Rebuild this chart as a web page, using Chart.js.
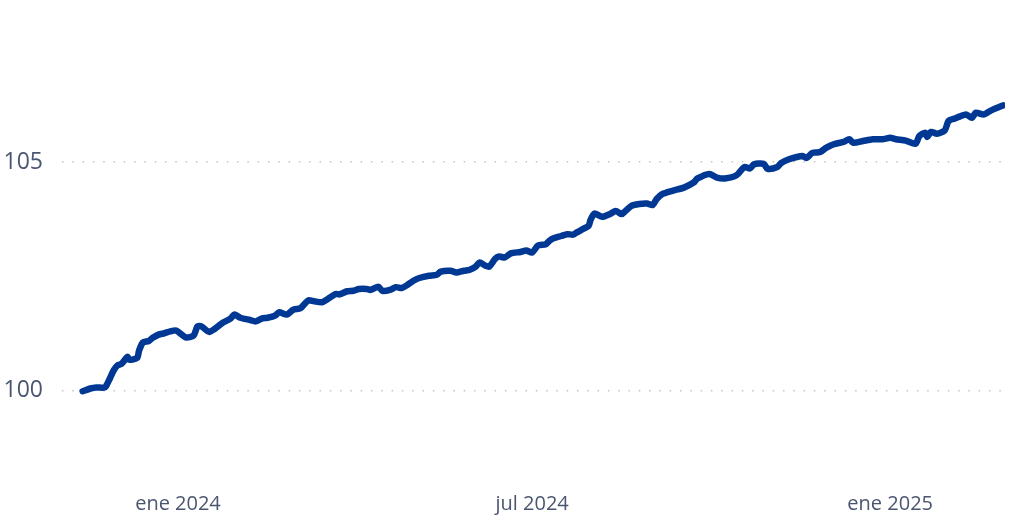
<!DOCTYPE html>
<html>
<head>
<meta charset="utf-8">
<script src="https://cdn.jsdelivr.net/npm/chart.js@4"></script>
<style>
  html, body { margin: 0; padding: 0; background: #fff; }
  #wrap { width: 1009px; height: 516px; }
</style>
</head>
<body>
<div id="wrap"><canvas id="line-chart" width="1009" height="516"></canvas></div>
<script>
// dias desde el 1 de enero de 2024
const days = [-49, -45, -42, -38, -37, -35, -33, -31, -29, -26, -25, -21, -20, -18, -15, -13, -10, -7, -4, -1,
  4, 8, 10, 12, 16, 19, 23, 27, 29, 32, 37, 40, 43, 46, 50, 52, 56, 59, 63, 65, 67, 70, 74, 77, 81, 83, 87, 90, 93, 97,
  99, 103, 105, 109, 112, 115, 118, 121, 124, 129, 133, 135, 140, 143, 147, 150, 153, 155, 158, 160, 163, 165, 168, 171,
  176, 179, 182, 185, 189, 191, 193, 197, 200, 203, 205, 208, 211, 212, 214, 218, 222, 225, 228, 230, 233, 237, 241, 244,
  246, 249, 254, 260, 265, 267, 273, 277, 281, 287, 291, 294, 296, 301, 303, 308, 310, 314, 318, 321, 323, 326, 330, 333,
  337, 342, 345, 347, 352, 357, 362, 366, 369, 374, 379, 381, 384, 385, 387, 390, 394, 396, 399, 402, 405, 408, 410, 414,
  417, 420, 424];

// indice (base 100)
const values = [99.98, 100.04, 100.06, 100.06, 100.09, 100.26, 100.44, 100.55, 100.58, 100.73, 100.67, 100.71, 100.87, 101.05, 101.08, 101.15, 101.22, 101.25, 101.29, 101.31,
  101.16, 101.20, 101.40, 101.40, 101.28, 101.35, 101.48, 101.57, 101.66, 101.59, 101.54, 101.51, 101.57, 101.59, 101.64, 101.71, 101.66, 101.76, 101.80, 101.89, 101.97, 101.95, 101.93, 102.00, 102.11, 102.10, 102.17, 102.18, 102.22, 102.22,
  102.20, 102.27, 102.18, 102.20, 102.26, 102.24, 102.31, 102.40, 102.46, 102.51, 102.53, 102.60, 102.62, 102.58, 102.62, 102.64, 102.71, 102.80, 102.73, 102.71, 102.88, 102.93, 102.91, 103.00,
  103.03, 103.06, 103.02, 103.17, 103.20, 103.28, 103.33, 103.38, 103.42, 103.41, 103.46, 103.53, 103.60, 103.73, 103.87, 103.80, 103.86, 103.93, 103.86, 103.93, 104.04, 104.08, 104.09, 104.06,
  104.19, 104.30, 104.37, 104.44, 104.55, 104.64, 104.74, 104.66, 104.64, 104.71, 104.89, 104.86, 104.95, 104.96, 104.85, 104.89, 104.98, 105.06, 105.11, 105.13, 105.09, 105.20, 105.22, 105.31,
  105.39, 105.44, 105.50, 105.42, 105.46, 105.50, 105.50, 105.53, 105.50, 105.47, 105.40, 105.57, 105.64, 105.55, 105.66, 105.62, 105.69, 105.90, 105.95, 106.00, 106.04, 105.97, 106.08, 106.04,
  106.11, 106.17, 106.24];

// marcas del eje x
const xTickDays = [0, 182, 366];
const xTickLabels = ['ene 2024', 'jul 2024', 'ene 2025'];
const yTicks = [100, 105];

const points = days.map((d, i) => ({ x: d, y: values[i] }));

const config = {
  type: 'line',
  data: {
    datasets: [{
      data: points,
      borderColor: '#003893',
      borderWidth: 6.5,
      borderCapStyle: 'round',
      borderJoinStyle: 'round',
      pointRadius: 0,
      tension: 0.25,
      fill: false
    }]
  },
  options: {
    responsive: false,
    animation: false,
    layout: { padding: { left: 5, right: 4, top: 0, bottom: 0 } },
    plugins: { legend: { display: false }, tooltip: { enabled: false } },
    scales: {
      x: {
        type: 'linear',
        min: -59.6,
        max: 425,
        afterBuildTicks: function(scale) {
          scale.ticks = xTickDays.map(v => ({ value: v }));
        },
        afterFit: function(scale) { scale.height = 38; },
        ticks: {
          autoSkip: false,
          maxRotation: 0,
          padding: 6,
          color: '#4a5670',
          font: { family: 'Open Sans', size: 20 },
          callback: function(value) {
            const i = xTickDays.indexOf(value);
            return i >= 0 ? xTickLabels[i] : '';
          }
        },
        grid: { display: false },
        border: { display: false }
      },
      y: {
        min: 98.08,
        max: 107.83,
        afterBuildTicks: function(scale) {
          scale.ticks = yTicks.map(v => ({ value: v }));
        },
        afterFit: function(scale) { scale.width = 57; },
        ticks: {
          padding: 19,
          color: '#4a5670',
          font: { family: 'Open Sans', size: 23 }
        },
        grid: { color: '#c4c4c4', lineWidth: 1.5, drawTicks: false },
        border: { display: false, dash: [1.5, 8.8] }
      }
    }
  }
};

const ctx = document.getElementById('line-chart').getContext('2d');
new Chart(ctx, config);
</script>
</body>
</html>
